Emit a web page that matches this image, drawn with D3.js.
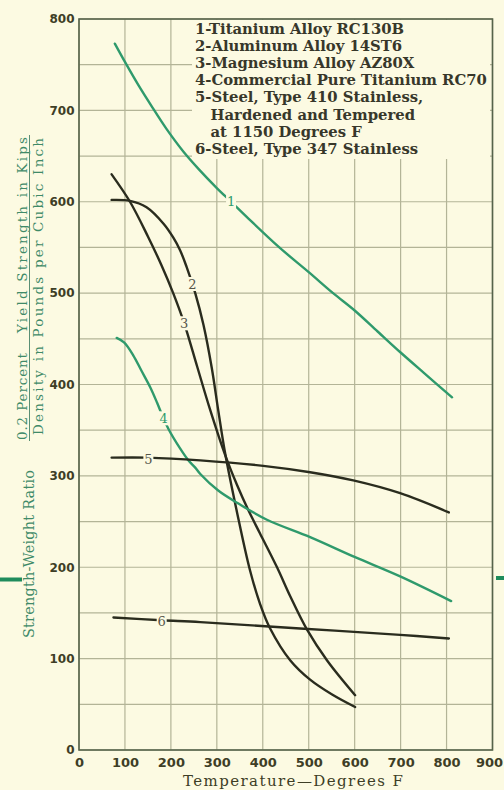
<!DOCTYPE html>
<html>
<head>
<meta charset="utf-8">
<script src="https://cdn.jsdelivr.net/npm/d3@7"></script>
<style>
    html, body { margin: 0; padding: 0; background: #fcfae2; }
    svg { display: block; }
</style>
</head>
<body>
<div id="chart"></div>
<script>
// tick values
const xTicks = [0, 100, 200, 300, 400, 500, 600, 700, 800, 900];
const yTicks = [0, 100, 200, 300, 400, 500, 600, 700, 800];

// legend text
const legendLines = [
    "1-Titanium Alloy RC130B",
    "2-Aluminum Alloy 14ST6",
    "3-Magnesium Alloy AZ80X",
    "4-Commercial Pure Titanium RC70",
    "5-Steel, Type 410 Stainless,",
    "Hardened and Tempered",
    "at 1150 Degrees F",
    "6-Steel, Type 347 Stainless"
];

// [temperature F, strength-weight ratio]
const titaniumRC130B = [[78, 773], [100, 753], [130, 727], [160, 703], [190, 680], [227, 655], [260, 636],
    [300, 615], [331, 600], [370, 581], [436, 550], [500, 523], [553, 500], [600, 481], [650, 458],
    [700, 435], [750, 413], [812, 386]];
const aluminum14ST6 = [[71, 602], [111, 601], [147, 594], [184, 576], [205, 561], [220, 547], [234, 529],
    [253, 500], [271, 465], [289, 418], [303, 372], [318, 325], [344, 260], [372, 197], [394, 160],
    [416, 133], [460, 98], [503, 77], [550, 61], [601, 47]];
const magnesiumAZ80X = [[71, 630], [111, 600], [150, 562], [180, 530], [205, 500], [229, 467], [257, 420],
    [285, 373], [318, 323], [344, 290], [369, 262], [394, 237], [431, 200], [460, 168], [496, 132],
    [540, 98], [601, 60]];
const pureTitaniumRC70 = [[82, 451], [98, 446], [118, 432], [136, 415], [155, 397], [170, 380], [183, 364],
    [195, 351], [220, 330], [238, 317], [253, 309], [264, 302], [303, 284], [346, 270], [409, 252],
    [503, 233], [601, 211], [699, 190], [810, 163]];
const steel410 = [[71, 320], [150, 320], [264, 317], [401, 311], [503, 304], [597, 295], [699, 281], [805, 260]];
const steel347 = [[75, 145], [180, 142], [264, 140], [481, 133], [699, 126], [805, 122]];

const curveNumbers = ["1", "2", "3", "4", "5", "6"];
// where each curve number sits, in data units
const labelPoints = [[331, 600], [247, 510], [229, 467], [184, 363], [151, 318], [180, 141]];

const series = [titaniumRC130B, aluminum14ST6, magnesiumAZ80X, pureTitaniumRC70, steel410, steel347];

const W = 504, H = 790;
const BG = "#fcfae2";
const GREEN = "#2f9a6c";
const DARK = "#2a2c1e";
const TEXT = "#3e3e26";
const seriesColor = [GREEN, DARK, DARK, GREEN, DARK, DARK];
const labelColor = [GREEN, "#55554a", "#55554a", GREEN, "#55554a", "#55554a"];

const svg = d3.select("#chart").append("svg")
    .attr("width", W)
    .attr("height", H);

svg.append("rect").attr("width", W).attr("height", H).attr("fill", BG);

const x = d3.scaleLinear().domain([0, 900]).range([79, 492.5]);
const y = d3.scaleLinear().domain([0, 800]).range([750, 19]);

// grid
const grid = svg.append("g");
grid.selectAll(".vgrid")
    .data(xTicks)
    .enter().append("line")
    .attr("x1", d => x(d)).attr("x2", d => x(d))
    .attr("y1", y(0)).attr("y2", y(800))
    .attr("stroke", "#b3b497").attr("stroke-width", 1.2);
grid.selectAll(".hgrid")
    .data(d3.range(0, 850, 50))
    .enter().append("line")
    .attr("x1", x(0)).attr("x2", x(900))
    .attr("y1", d => y(d)).attr("y2", d => y(d))
    .attr("stroke", "#b3b497").attr("stroke-width", 1.2);

// legend panel blanks out the grid
svg.append("rect")
    .attr("x", 192).attr("y", y(800) + 1)
    .attr("width", 298).attr("height", 139)
    .attr("fill", BG);

// frame
svg.append("rect")
    .attr("x", x(0)).attr("y", y(800))
    .attr("width", x(900) - x(0)).attr("height", y(0) - y(800))
    .attr("fill", "none")
    .attr("stroke", "#56634a").attr("stroke-width", 1.6);

// curves
const line = d3.line()
    .x(d => x(d[0]))
    .y(d => y(d[1]))
    .curve(d3.curveCatmullRom.alpha(0.5));

svg.append("g").selectAll("path")
    .data(series)
    .enter().append("path")
    .attr("d", line)
    .attr("fill", "none")
    .attr("stroke", (d, i) => seriesColor[i])
    .attr("stroke-width", 2.4)
    .attr("stroke-linecap", "round");

// curve numbers with a gap cut into the line
const labels = svg.append("g");
labels.selectAll("rect")
    .data(labelPoints)
    .enter().append("rect")
    .attr("x", d => x(d[0]) - 5)
    .attr("y", d => y(d[1]) - 7)
    .attr("width", 10).attr("height", 14)
    .attr("fill", BG);
labels.selectAll("text")
    .data(labelPoints)
    .enter().append("text")
    .attr("x", d => x(d[0]))
    .attr("y", d => y(d[1]))
    .attr("dy", "0.36em")
    .attr("text-anchor", "middle")
    .attr("font-family", "DejaVu Serif")
    .attr("font-size", 13)
    .attr("fill", (d, i) => labelColor[i])
    .text((d, i) => curveNumbers[i]);

// legend
const legend = svg.append("g")
    .attr("font-family", "DejaVu Serif")
    .attr("font-weight", "bold")
    .attr("fill", "#37372a");
legend.selectAll("text")
    .data(legendLines)
    .enter().append("text")
    .attr("x", (d, i) => (i === 5 || i === 6) ? 210.5 : 195)
    .attr("y", (d, i) => 34 + i * 17.1)
    .attr("font-size", 14)
    .text(d => d);

// fit legend font to the longest line
const longest = legend.selectAll("text").nodes()[3];
const fitSize = 14 * 292 / longest.getComputedTextLength();
legend.selectAll("text").attr("font-size", fitSize);

// axes
const yAxis = svg.append("g")
    .attr("transform", `translate(${x(0)},0)`)
    .call(d3.axisLeft(y).tickValues(yTicks).tickSize(0).tickPadding(4.5).tickFormat(d3.format("d")));
yAxis.select(".domain").remove();
yAxis.selectAll("text")
    .attr("font-family", "DejaVu Sans")
    .attr("font-weight", "bold")
    .attr("font-size", 12)
    .attr("fill", TEXT);

const xAxis = svg.append("g")
    .attr("transform", `translate(0,${y(0)})`)
    .call(d3.axisBottom(x).tickValues(xTicks).tickSize(0).tickPadding(8).tickFormat(d3.format("d")));
xAxis.select(".domain").remove();
xAxis.selectAll("text")
    .attr("font-family", "DejaVu Sans")
    .attr("font-weight", "bold")
    .attr("font-size", 13)
    .attr("fill", TEXT)
    .attr("dx", d => d === 900 ? -3.5 : 0);

// x title
svg.append("text")
    .attr("x", 183).attr("y", 786)
    .attr("font-family", "DejaVu Serif")
    .attr("font-size", 15)
    .attr("fill", TEXT)
    .attr("textLength", 220)
    .attr("lengthAdjust", "spacing")
    .text("Temperature\u2014Degrees F");

// y title: ratio with a fraction
const yTitle = svg.append("g")
    .attr("font-family", "DejaVu Serif")
    .attr("fill", "#3f8a68");

function verticalText(px, py, len, size, str) {
    yTitle.append("text")
        .attr("transform", `translate(${px},${py}) rotate(-90)`)
        .attr("font-size", size)
        .attr("textLength", len)
        .attr("lengthAdjust", "spacing")
        .text(str);
}
verticalText(33.5, 638, 168, 14.5, "Strength-Weight Ratio");
verticalText(26.5, 440, 87, 13.5, "0.2 Percent");
verticalText(26.5, 333, 196, 13.5, "Yield Strength in Kips");
verticalText(42.5, 435, 297, 13.5, "Density in Pounds per Cubic Inch");
yTitle.append("line")
    .attr("x1", 29.5).attr("x2", 29.5)
    .attr("y1", 135).attr("y2", 441)
    .attr("stroke", "#5a8f74").attr("stroke-width", 1);

// green trim marks at the edges
svg.append("rect").attr("x", 0).attr("y", 577.5).attr("width", 22).attr("height", 4).attr("fill", "#1f8c5c");
svg.append("rect").attr("x", 496).attr("y", 576).attr("width", 8).attr("height", 4).attr("fill", "#1f8c5c");
</script>
</body>
</html>
